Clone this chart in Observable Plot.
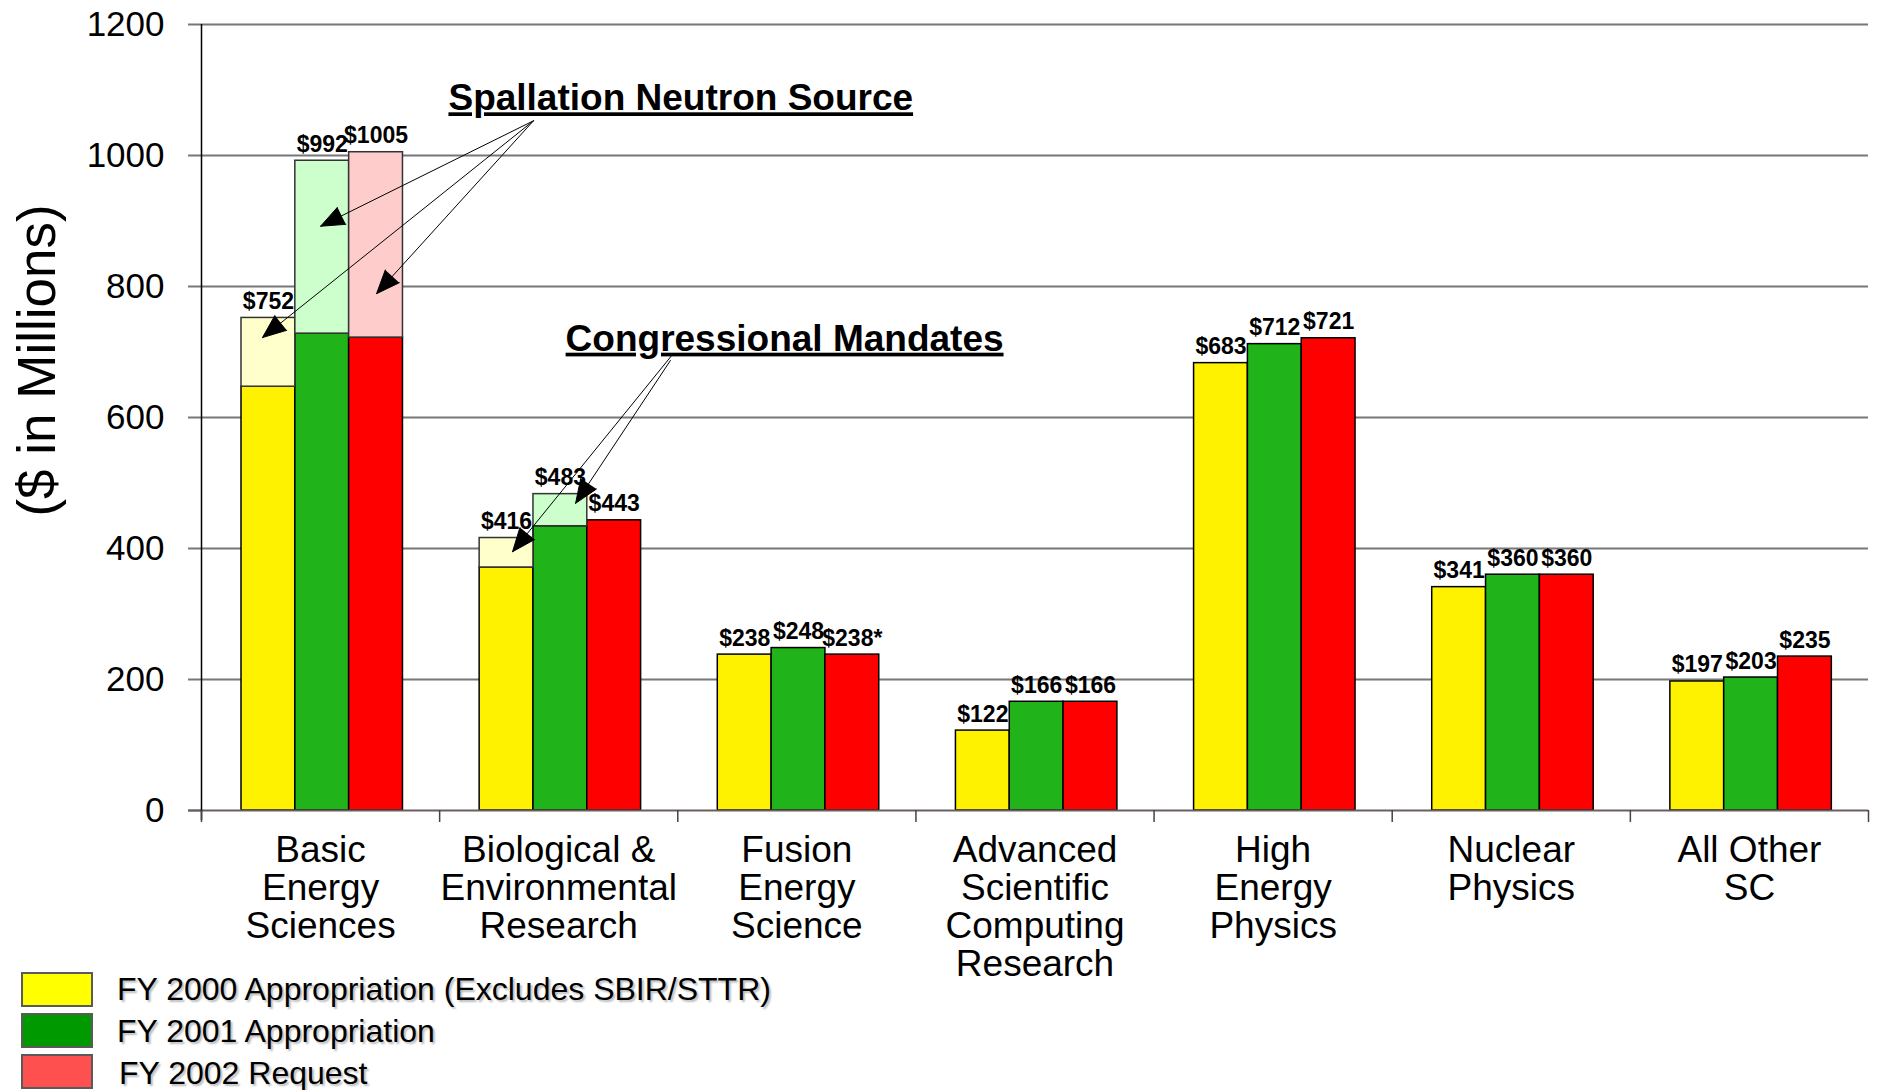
<!DOCTYPE html>
<html>
<head>
<meta charset="utf-8">
<script src="https://cdn.jsdelivr.net/npm/d3@7"></script>
<script src="https://cdn.jsdelivr.net/npm/@observablehq/plot@0.6"></script>
<style>
html, body { margin: 0; padding: 0; background: #fff; width: 1877px; height: 1090px; overflow: hidden; }
#chart { position: absolute; left: 0; top: 0; }
.legend-swatch { position: absolute; left: 21px; width: 72px; height: 35px; box-sizing: border-box; border: 2px solid #5a5a5a; }
.legend-label { position: absolute; left: 117px; font-size: 32px; font-family: "Liberation Sans", Arial, sans-serif; color: #000; text-shadow: 2px 2px 2px #bbb; line-height: 1; white-space: nowrap; }
</style>
</head>
<body>
<div id="chart"></div>
<div id="legend"></div>
<script>
// ---- data ----
const categories = [
  "Basic\nEnergy\nSciences",
  "Biological &\nEnvironmental\nResearch",
  "Fusion\nEnergy\nScience",
  "Advanced\nScientific\nComputing\nResearch",
  "High\nEnergy\nPhysics",
  "Nuclear\nPhysics",
  "All Other\nSC"
];
const seriesNames = [
  "FY 2000 Appropriation (Excludes SBIR/STTR)",
  "FY 2001 Appropriation",
  "FY 2002 Request"
];
const fy2000 = [752, 416, 238, 122, 683, 341, 197];
const fy2001 = [992, 483, 248, 166, 712, 360, 203];
const fy2002 = [1005, 443, 238, 166, 721, 360, 235];
// highlighted upper parts of bars (Spallation Neutron Source / Congressional Mandates)
const fy2000Highlight = [105, 45, 0, 0, 0, 0, 0];
const fy2001Highlight = [264, 49, 0, 0, 0, 0, 0];
const fy2002Highlight = [283, 0, 0, 0, 0, 0, 0];
const fy2002Notes = ["", "", "*", "", "", "", ""];
const yTicks = [0, 200, 400, 600, 800, 1000, 1200];
const yLabel = "($ in Millions)";
const annotations = [
  {text: "Spallation Neutron Source", x: 1.037, y: 1069},
  {text: "Congressional Mandates", x: 1.529, y: 702}
];
const arrows = [
  {x1: 1.394, y1: 1053, x2: 0.500, y2: 892},
  {x1: 1.394, y1: 1053, x2: 0.256, y2: 722},
  {x1: 1.394, y1: 1053, x2: 0.735, y2: 789},
  {x1: 1.982, y1: 698, x2: 1.306, y2: 395},
  {x1: 1.969, y1: 687, x2: 1.571, y2: 469}
];

// ---- styles ----
const darkColors = ["#FFF200", "#20B41A", "#FF0000"];
const lightColors = ["#FFFFCC", "#CCFFCC", "#FFCCCC"];
const legendColors = ["#FFFF00", "#009900", "#FF5050"];
const barStart = 0.168, barW = 0.226;

const totals = [fy2000, fy2001, fy2002];
const highlights = [fy2000Highlight, fy2001Highlight, fy2002Highlight];
const rows = [];
categories.forEach((c, i) => seriesNames.forEach((s, k) => {
  const total = totals[k][i], hl = highlights[k][i];
  const x1 = i + barStart + k * barW, x2 = x1 + barW;
  rows.push({i, k, x1, x2, xc: (x1 + x2) / 2, base: total - hl, total, hl,
    label: "$" + total + (k === 2 ? fy2002Notes[i] : "")});
}));
const hlRows = rows.filter(d => d.hl > 0);

const W = 1877, H = 980;
const plot = Plot.plot({
  width: W, height: H,
  marginLeft: 201, marginRight: 9, marginTop: 24, marginBottom: H - 810,
  x: {domain: [0, 7]},
  y: {domain: [0, 1200]},
  color: {type: "identity"},
  style: {fontFamily: "'Liberation Sans', Arial, sans-serif", fontSize: "16px", background: "#fff", color: "#000", overflow: "visible"},
  marks: [
    Plot.gridY({ticks: yTicks.filter(v => v > 0), stroke: "#777", strokeOpacity: 1, strokeWidth: 2}),
    Plot.axisY({ticks: yTicks, tickSize: 13, tickPadding: 24, fontSize: 35, stroke: "#777", strokeWidth: 2, fill: "#000", label: null, tickFormat: d => String(d)}),
    Plot.rect(rows, {x1: "x1", x2: "x2", y1: 0, y2: "base", fill: d => darkColors[d.k], stroke: "#000", strokeWidth: 1.5}),
    Plot.rect(hlRows, {x1: "x1", x2: "x2", y1: "base", y2: "total", fill: d => lightColors[d.k], stroke: "#333", strokeWidth: 1.5}),
    Plot.ruleY([0], {stroke: "#6b5e5e", strokeWidth: 2, insetLeft: -13}),
    Plot.ruleX([0], {y1: 1200, y2: 0, stroke: "#000", strokeWidth: 1.5, insetBottom: -10}),
    Plot.axisX({ticks: d3.range(8), tickSize: 12, tickFormat: () => "", stroke: "#444", strokeWidth: 1.5, label: null}),
    Plot.axisX({ticks: d3.range(7).map(i => i + 0.5), tickSize: 0, tickPadding: 24, tickFormat: v => categories[Math.floor(v)], fontSize: 37, lineHeight: 1.03, fill: "#000", label: null}),
    Plot.text(rows, {x: "xc", y: "total", text: "label", dy: -9, lineAnchor: "bottom", fontSize: 23, fontWeight: "bold", fill: "#000"}),
    Plot.text(annotations, {x: "x", y: "y", text: "text", textAnchor: "start", lineAnchor: "bottom", fontSize: 37, fontWeight: "bold", fill: "#000"}),
    Plot.arrow(arrows, {x1: "x1", y1: "y1", x2: "x2", y2: "y2", stroke: "#000", fill: "#000", strokeWidth: 1, headLength: 38, headAngle: 44}),
    Plot.text([yLabel], {frameAnchor: "left", textAnchor: "middle", rotate: -90, dx: -163, dy: -57, fontSize: 53, fill: "#000"})
  ]
});
plot.querySelectorAll("text").forEach(t => {
  if (annotations.some(a => a.text === t.textContent)) {
    t.style.textDecoration = "underline";
  }
});
document.getElementById("chart").appendChild(plot);

// legend
const legend = document.getElementById("legend");
seriesNames.forEach((name, k) => {
  const top = 972 + k * 41;
  const sw = document.createElement("div");
  sw.className = "legend-swatch";
  sw.style.top = top + "px";
  sw.style.background = legendColors[k];
  legend.appendChild(sw);
  const lb = document.createElement("div");
  lb.className = "legend-label";
  lb.style.top = (top + 1 + k) + "px";
  if (k === 2) lb.style.left = "119px";
  lb.textContent = name;
  legend.appendChild(lb);
});
</script>
</body>
</html>
